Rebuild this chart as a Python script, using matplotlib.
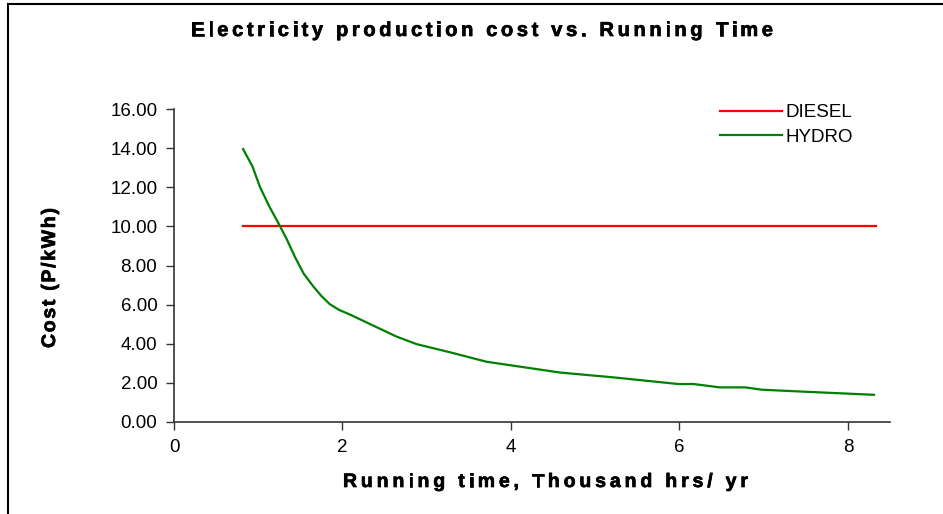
import numpy as np
import matplotlib
matplotlib.use('Agg')
import matplotlib.pyplot as plt
from matplotlib.lines import Line2D
from matplotlib.font_manager import FontProperties
import matplotlib.patheffects as pe

# data
diesel_x = [0.82, 8.33]
diesel_y = [10.0, 10.0]

hydro_x = [0.82, 0.93, 1.02, 1.13, 1.26, 1.34, 1.44, 1.54, 1.65, 1.75, 1.85, 1.96,
           2.09, 2.33, 2.64, 2.88, 3.28, 3.71, 4.58, 5.22, 5.99, 6.17, 6.48, 6.78,
           6.98, 7.43, 8.31]
hydro_y = [13.95, 13.08, 12.02, 11.03, 10.0, 9.33, 8.4, 7.58, 6.95, 6.44, 6.02, 5.73,
           5.49, 5.0, 4.37, 3.98, 3.56, 3.08, 2.53, 2.28, 1.94, 1.94, 1.77, 1.77,
           1.65, 1.56, 1.39]

yticks = np.arange(0, 17, 2)
xticks = [0, 2, 4, 6, 8]

title = 'Electricity production cost vs. Running Time'
xlabel = 'Running time, Thousand hrs/ yr'
ylabel = 'Cost (P/kWh)'

plt.rcParams['font.family'] = ['Liberation Sans', 'DejaVu Sans']

W, H = 943, 514
fig = plt.figure(figsize=(W/100, H/100), dpi=100)
renderer = fig.canvas.get_renderer()


def text_w(s, prop):
    w, h, d = renderer.get_text_width_height_descent(s, prop, ismath=False)
    return w


def spaced_text(s, x0, base, size, width, vertical=False):
    # the reference uses letter-spaced bold text, so place char by char
    prop = FontProperties(family='Liberation Sans', weight='bold', size=size)
    wh = text_w('H', prop)
    offs = [0.0] + [text_w(s[:i] + 'H', prop) - wh for i in range(1, len(s))]
    natural = text_w(s, prop)
    track = (width - natural) / (len(s) - 1)
    fx = [pe.withStroke(linewidth=0.5, foreground='black')]
    for i, c in enumerate(s):
        p = offs[i] + i * track
        if vertical:
            fig.text(base / W, 1 - (x0 - p) / H, c, fontproperties=prop, rotation=90,
                     rotation_mode='anchor', ha='left', va='baseline', path_effects=fx)
        else:
            fig.text((x0 + p) / W, 1 - base / H, c, fontproperties=prop,
                     ha='left', va='baseline', path_effects=fx)


# axes box in pixels: left 174, right 890, top 109, bottom 422
ax = fig.add_axes([174/W, 1-422/H, (890-174)/W, (422-109)/H])

ax.plot(diesel_x, diesel_y, color='#ff0000', lw=1.6, label='DIESEL')
ax.plot(hydro_x, hydro_y, color='#008000', lw=1.6, label='HYDRO')

ax.set_xlim(0, 8.5)
ax.set_ylim(0, 16)
ax.set_xticks(xticks)
ax.set_yticks(yticks)
ax.set_yticklabels(['%.2f' % v for v in yticks])
for s in ['top', 'right']:
    ax.spines[s].set_visible(False)
for s in ['left', 'bottom']:
    ax.spines[s].set_color('#333333')
    ax.spines[s].set_linewidth(1.2)
ax.tick_params(direction='out', length=6, width=1, color='#333333',
               labelsize=13.5, pad=6)

leg = ax.legend(loc='upper left', bbox_to_anchor=((703-174)/(890-174), 1.07),
                frameon=False, fontsize=13.5, handlelength=3.3, handletextpad=0.2,
                labelspacing=0.4)

spaced_text(title, 191, 36, 14.5, 582)
spaced_text(xlabel, 343, 487, 14, 405)
spaced_text(ylabel, 348, 55, 14, 140, vertical=True)

# figure border (top and left)
fig.add_artist(Line2D([8/W, 1], [1-4/H, 1-4/H], color='black', lw=1.5, transform=fig.transFigure))
fig.add_artist(Line2D([8/W, 8/W], [0, 1-4/H], color='black', lw=1.5, transform=fig.transFigure))

fig.savefig('out.png', dpi=100)
